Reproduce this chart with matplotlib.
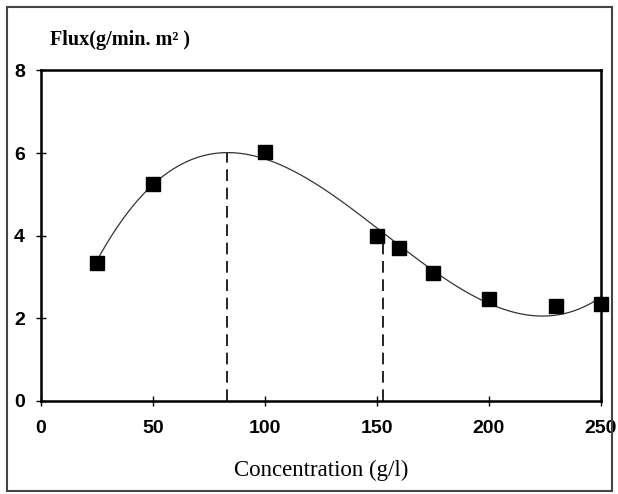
import numpy as np
import matplotlib.pyplot as plt
from matplotlib.patches import Rectangle

concentration = [25, 50, 100, 150, 160, 175, 200, 230, 250]
flux = [3.35, 5.25, 6.02, 4.0, 3.71, 3.11, 2.48, 2.29, 2.35]
dashed_at = [83, 153]

x_ticks = [0, 50, 100, 150, 200, 250]
y_ticks = [0, 2, 4, 6, 8]

# third order trendline through the measurements
coef = np.polyfit(concentration, flux, 3)
xs = np.linspace(min(concentration), max(concentration), 300)

fig = plt.figure(figsize=(6.18, 4.94), dpi=100)
ax = fig.add_axes([0.0659, 0.1883, 0.906, 0.669])

ax.plot(xs, np.polyval(coef, xs), color='#333333', linewidth=0.9, zorder=2)
ax.plot(concentration, flux, 's', color='black', markersize=9.5, zorder=3, clip_on=False)
for xd in dashed_at:
    ax.plot([xd, xd], [0, np.polyval(coef, xd)], color='black', linewidth=1.2,
            dashes=(7, 4), zorder=2)

ax.set_xlim(0, 250)
ax.set_ylim(0, 8)
ax.set_xticks(x_ticks)
ax.set_yticks(y_ticks)
ax.tick_params(direction='inout', length=7, width=1, labelsize=14)
ax.tick_params(axis='x', pad=10)
ax.tick_params(axis='y', pad=8)
for lab in ax.get_xticklabels() + ax.get_yticklabels():
    lab.set_fontfamily('Liberation Sans')
    lab.set_fontweight('bold')
for sp in ax.spines.values():
    sp.set_linewidth(1.8)

fig.text(0.519, 0.036, 'Concentration (g/l)', fontfamily='Liberation Serif',
         fontsize=16.5, ha='center', va='baseline')
fig.text(0.081, 0.909, 'Flux(g/min. m\u00b2 )', fontfamily='Liberation Serif',
         fontsize=14.5, fontweight='bold', va='baseline')

# outer frame round the whole figure
fig.patches.append(Rectangle((0.011, 0.006), 0.979, 0.98, transform=fig.transFigure,
                             fill=False, edgecolor='#444444', linewidth=1.5))

fig.savefig('out.png', dpi=100)
